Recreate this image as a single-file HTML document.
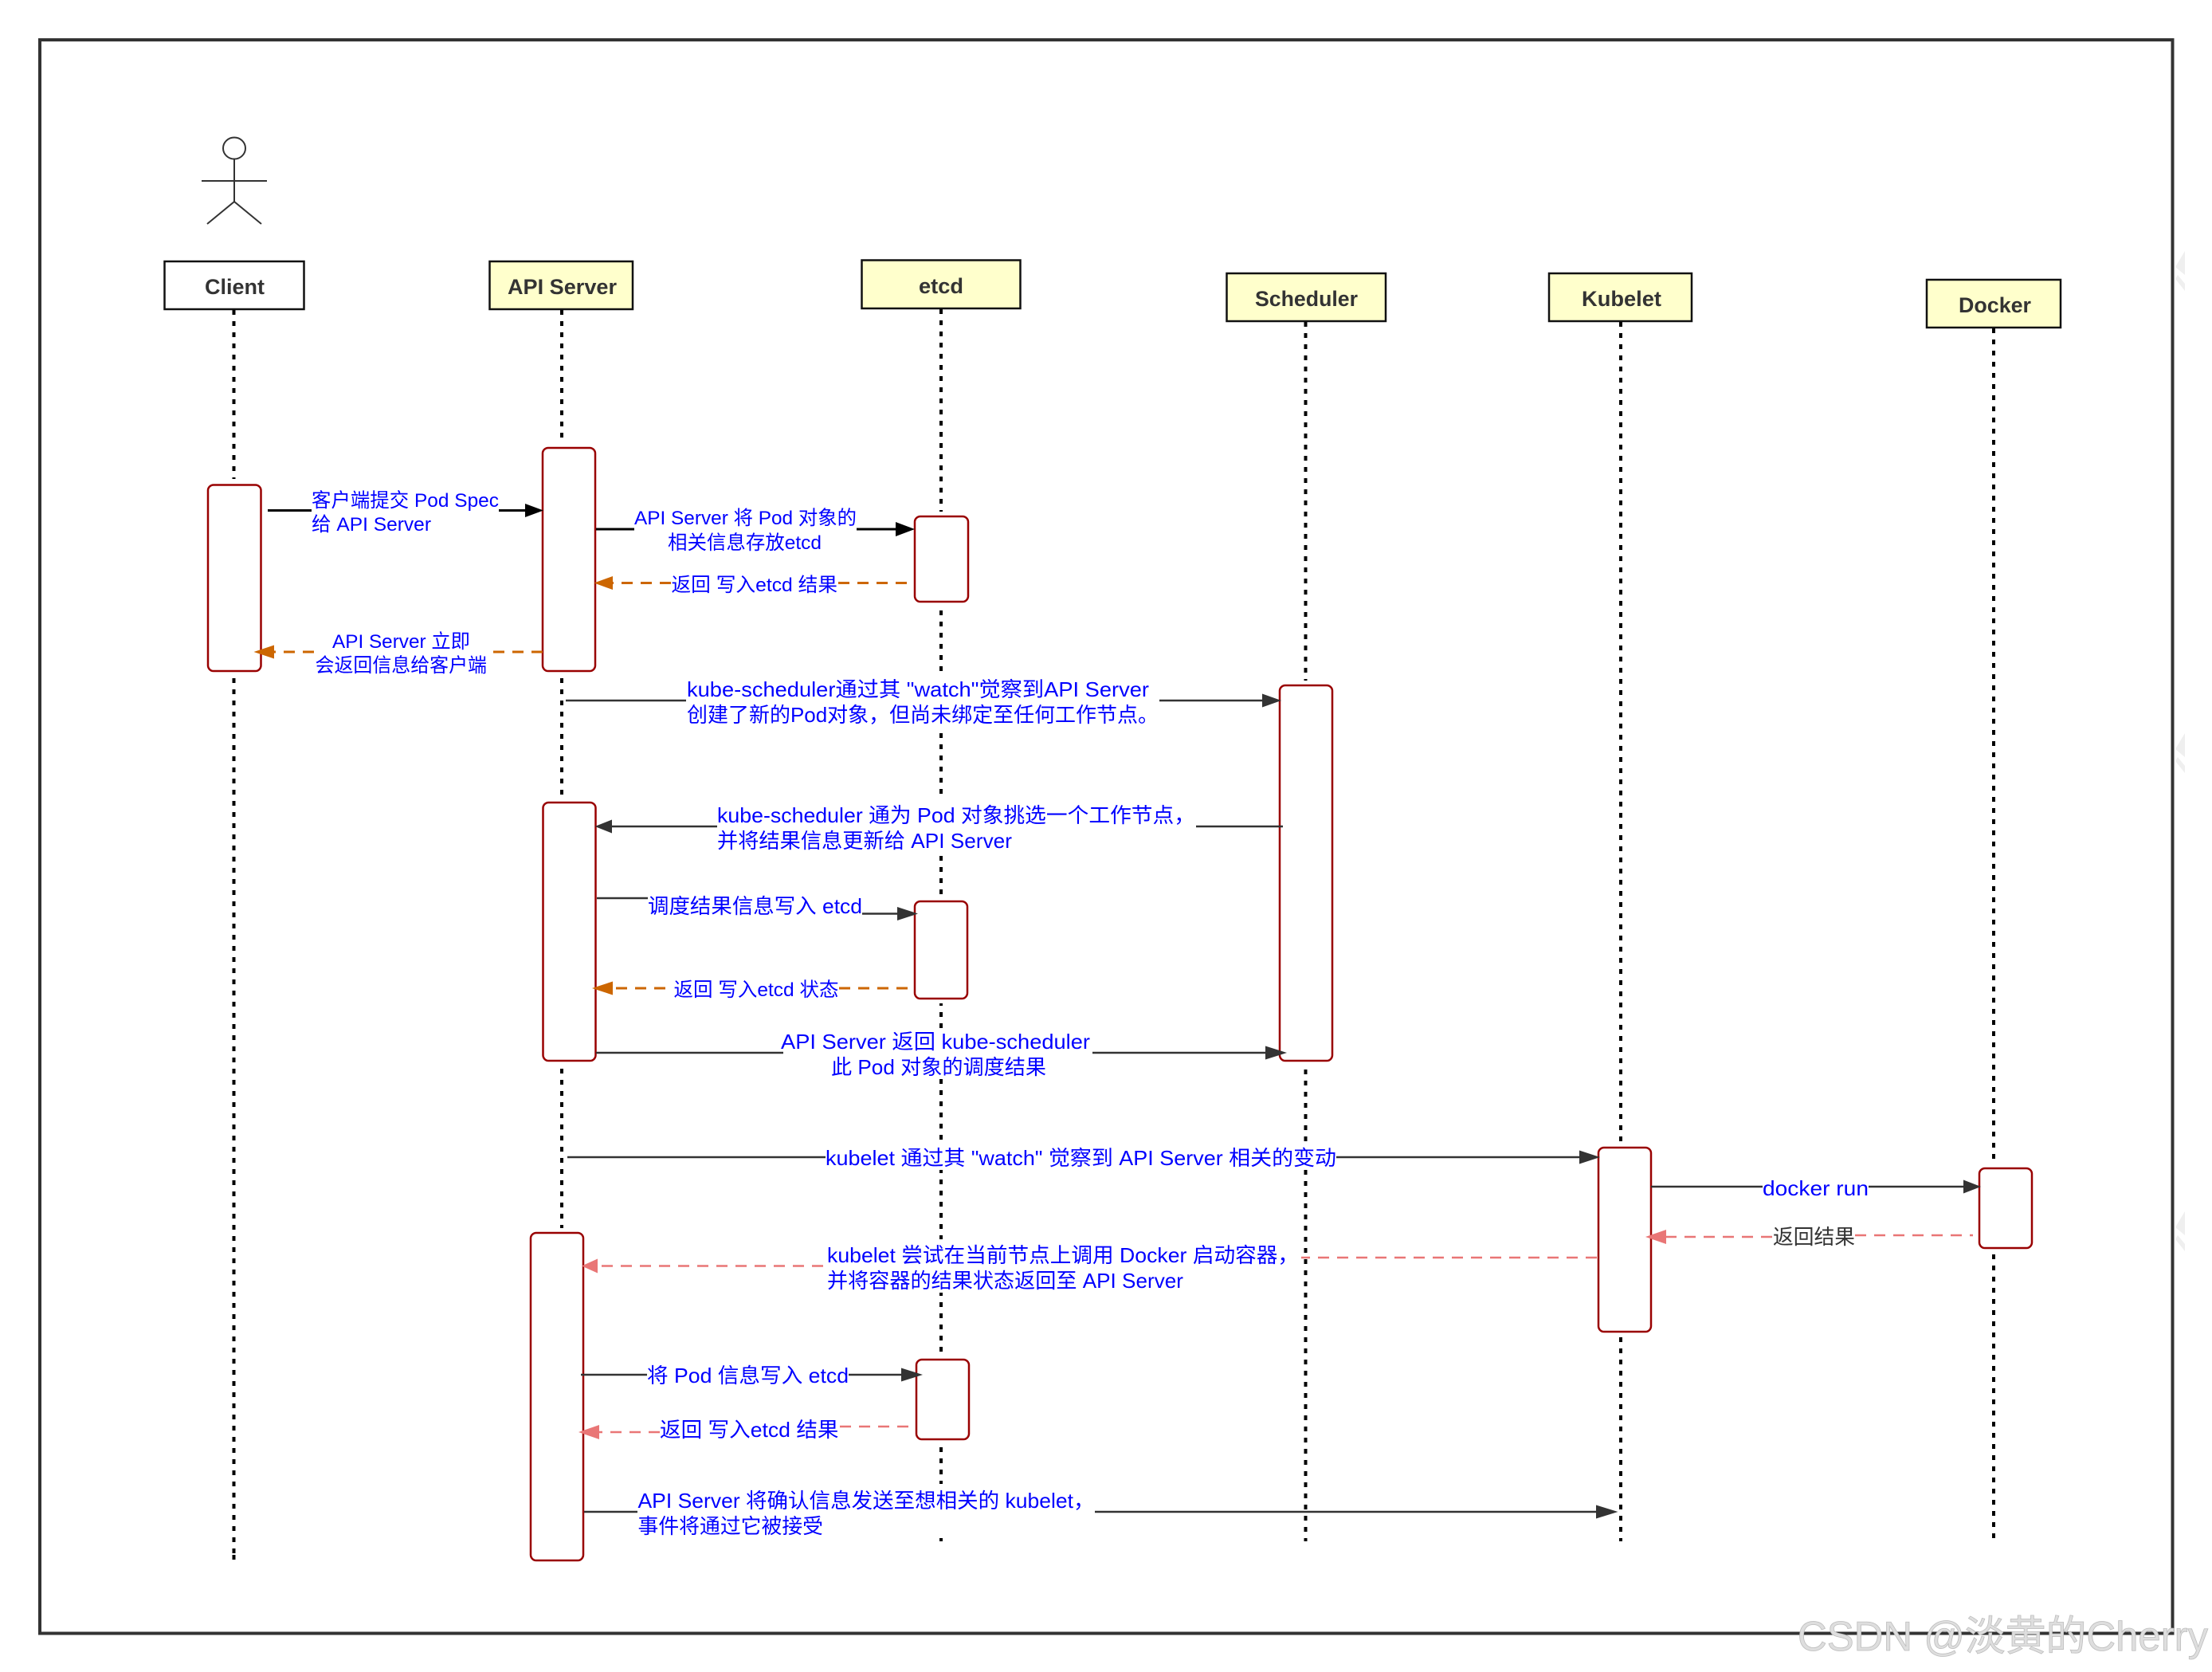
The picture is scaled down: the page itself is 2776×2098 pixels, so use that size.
<!DOCTYPE html>
<html><head><meta charset="utf-8"><style>
html,body{margin:0;padding:0;background:#fff}
svg{display:block}
text{font-family:"Liberation Sans","Noto Sans CJK SC",sans-serif;white-space:pre}
.s{font-size:24.5px;fill:#00f}
.b{font-size:26px;fill:#00f}
.t{font-size:27px;font-weight:bold;fill:#333;text-anchor:start}
.ll{stroke:#000;stroke-width:4;stroke-dasharray:6 8;fill:none}
.box{stroke:#111;stroke-width:2.5}
.act{fill:#fff;stroke:#990000;stroke-width:2.5}
.k{stroke:#000;stroke-width:3;fill:none}
.g{stroke:#333;stroke-width:2.5;fill:none}
.o{stroke:#CC6600;stroke-width:3;stroke-dasharray:14 10;fill:none}
.p{stroke:#E97676;stroke-width:2.5;stroke-dasharray:14 10;fill:none}
</style></head><body>
<svg xmlns="http://www.w3.org/2000/svg" width="2776" height="2098" viewBox="0 0 2776 2098">
<rect width="2776" height="2098" fill="#fff"/>
<rect x="50" y="50" width="2676.5" height="1999.5" fill="none" stroke="#333" stroke-width="4"/>

<!-- faint edge marks -->
<g fill="#efefef">
<polygon points="2742,315 2730,335 2742,345"/><polygon points="2730,350 2742,365 2742,356 2733,345"/>
<polygon points="2742,920 2730,940 2742,950"/><polygon points="2730,955 2742,970 2742,961 2733,950"/>
<polygon points="2742,1520 2730,1540 2742,1550"/><polygon points="2730,1555 2742,1570 2742,1561 2733,1550"/>
</g>

<!-- actor -->
<g fill="none" stroke="#333" stroke-width="2">
<ellipse cx="294" cy="186" rx="14" ry="13.5"/>
<path d="M294 200V253M253 227H335M294 253L260 281M294 253L328 281"/>
</g>

<!-- lifelines -->
<path class="ll" d="M293.5 389V1950"/>
<path class="ll" d="M293.5 1951V1957"/>
<path class="ll" d="M705 389V1541"/>
<path class="ll" d="M1181 388V1934"/>
<path class="ll" d="M1638.5 404V1934"/>
<path class="ll" d="M2034 404V1934"/>
<path class="ll" d="M2502 412V1930"/>

<!-- label backgrounds hiding lifelines -->
<g fill="#fff">
<rect x="862" y="842" width="582" height="76"/>
<rect x="900" y="1004" width="586" height="70"/>
<rect x="980" y="1290" width="390" height="64"/>
<rect x="1036" y="1436" width="642" height="32"/>
<rect x="1038" y="1555" width="578" height="67"/>
<rect x="800" y="1862" width="560" height="68"/>
</g>

<!-- white halos around activations -->
<g fill="#fff">
<rect x="255" y="601" width="78" height="249"/>
<rect x="675" y="556" width="78" height="294"/>
<rect x="1142" y="642" width="78" height="118"/>
<rect x="1600" y="854" width="78" height="484"/>
<rect x="675" y="1001" width="78" height="338"/>
<rect x="1142" y="1125" width="78" height="134"/>
<rect x="660" y="1541" width="78" height="420"/>
<rect x="1144" y="1700" width="78" height="114"/>
<rect x="2000" y="1434" width="78" height="243"/>
<rect x="2478" y="1460" width="78" height="112"/>
</g>

<!-- header boxes -->
<rect class="box" x="206.5" y="328" width="175" height="60" fill="#fff"/>
<rect class="box" x="614.5" y="328" width="179.5" height="60" fill="#FFFFCC"/>
<rect class="box" x="1081.5" y="326.5" width="199" height="60.5" fill="#FFFFCC"/>
<rect class="box" x="1539.5" y="343" width="199.5" height="60" fill="#FFFFCC"/>
<rect class="box" x="1944" y="343" width="179" height="60" fill="#FFFFCC"/>
<rect class="box" x="2418" y="351" width="168" height="60" fill="#FFFFCC"/>
<text class="t" x="257" y="369" textLength="75" lengthAdjust="spacingAndGlyphs">Client</text>
<text class="t" x="637" y="369" textLength="137" lengthAdjust="spacingAndGlyphs">API Server</text>
<text class="t" x="1153" y="368" textLength="56" lengthAdjust="spacingAndGlyphs">etcd</text>
<text class="t" x="1575" y="384" textLength="129" lengthAdjust="spacingAndGlyphs">Scheduler</text>
<text class="t" x="1985" y="384" textLength="100" lengthAdjust="spacingAndGlyphs">Kubelet</text>
<text class="t" x="2458" y="392" textLength="91" lengthAdjust="spacingAndGlyphs">Docker</text>

<!-- activations -->
<rect class="act" x="261" y="608.5" width="66.5" height="233.5" rx="7"/>
<rect class="act" x="681" y="562" width="66" height="280" rx="7"/>
<rect class="act" x="1148" y="648" width="67" height="107" rx="7"/>
<rect class="act" x="1606" y="860" width="66" height="471" rx="7"/>
<rect class="act" x="681.5" y="1007" width="66" height="324" rx="7"/>
<rect class="act" x="1148" y="1131" width="66" height="122" rx="7"/>
<rect class="act" x="666" y="1547" width="66" height="411" rx="7"/>
<rect class="act" x="1150" y="1706" width="66" height="100" rx="7"/>
<rect class="act" x="2006" y="1440" width="66" height="231" rx="7"/>
<rect class="act" x="2484" y="1466" width="66" height="100" rx="7"/>

<!-- 1 client to api -->
<path class="k" d="M336 640.5H391M626 640.5H660"/>
<polygon points="659,632 682,640.5 659,649" fill="#000"/>
<text class="s" x="391" y="636" textLength="235" lengthAdjust="spacingAndGlyphs">客户端提交 Pod Spec</text>
<text class="s" x="391" y="666" textLength="150" lengthAdjust="spacingAndGlyphs">给 API Server</text>

<!-- 2 api to etcd -->
<path class="k" d="M748 664H796M1075 664H1126"/>
<polygon points="1124,655 1148,664 1124,673" fill="#000"/>
<text class="s" x="796" y="658" textLength="279" lengthAdjust="spacingAndGlyphs">API Server 将 Pod 对象的</text>
<text class="s" x="838" y="689" textLength="193" lengthAdjust="spacingAndGlyphs">相关信息存放etcd</text>

<!-- 3 etcd return -->
<path class="o" d="M1052 731.5H1143M842 731.5H768"/>
<polygon points="769,723 745.5,731.5 769,740" fill="#CC6600"/>
<text class="s" x="842.5" y="742" textLength="208.5" lengthAdjust="spacingAndGlyphs">返回 写入etcd 结果</text>

<!-- 4 api return to client -->
<path class="o" d="M681 818H614M394 818H344"/>
<polygon points="344,809.5 318.5,818 344,826.5" fill="#CC6600"/>
<text class="s" x="417" y="813" textLength="173" lengthAdjust="spacingAndGlyphs">API Server 立即</text>
<text class="s" x="395.5" y="843" textLength="215.5" lengthAdjust="spacingAndGlyphs">会返回信息给客户端</text>

<!-- 5 -->
<path class="g" d="M710 879H861M1455 879H1586"/>
<polygon points="1584,870.5 1608,879 1584,887.5" fill="#333"/>
<text class="b" x="862" y="874" textLength="580" lengthAdjust="spacingAndGlyphs">kube-scheduler通过其 "watch"觉察到API Server</text>
<text class="b" x="862" y="906" textLength="592" lengthAdjust="spacingAndGlyphs">创建了新的Pod对象，但尚未绑定至任何工作节点。</text>

<!-- 6 -->
<path class="g" d="M1610 1037H1501M900 1037H766"/>
<polygon points="768,1028.5 746.5,1037 768,1045.5" fill="#333"/>
<text class="b" x="900" y="1032" textLength="600" lengthAdjust="spacingAndGlyphs">kube-scheduler 通为 Pod 对象挑选一个工作节点，</text>
<text class="b" x="900" y="1064" textLength="370" lengthAdjust="spacingAndGlyphs">并将结果信息更新给 API Server</text>

<!-- 7 -->
<path class="g" d="M749 1127H813M1082 1146.5H1128"/>
<polygon points="1126,1138 1152,1146.5 1126,1155" fill="#333"/>
<text class="b" x="813" y="1146" textLength="269" lengthAdjust="spacingAndGlyphs">调度结果信息写入 etcd</text>

<!-- 8 -->
<path class="o" d="M1053 1240H1148M835 1240H768"/>
<polygon points="769,1231.5 743,1240 769,1248.5" fill="#CC6600"/>
<text class="s" x="845.5" y="1250" textLength="207" lengthAdjust="spacingAndGlyphs">返回 写入etcd 状态</text>

<!-- 9 -->
<path class="g" d="M748 1321H983M1371 1321H1590"/>
<polygon points="1588,1312.5 1615,1321 1588,1329.5" fill="#333"/>
<text class="b" x="980" y="1316" textLength="388" lengthAdjust="spacingAndGlyphs">API Server 返回 kube-scheduler</text>
<text class="b" x="1043" y="1348" textLength="270" lengthAdjust="spacingAndGlyphs">此 Pod 对象的调度结果</text>

<!-- 10 -->
<path class="g" d="M712 1452H1036M1677 1452H1984"/>
<polygon points="1982,1443.5 2008,1452 1982,1460.5" fill="#333"/>
<text class="b" x="1036" y="1462" textLength="641" lengthAdjust="spacingAndGlyphs">kubelet 通过其 "watch" 觉察到 API Server 相关的变动</text>

<!-- 11 -->
<path class="p" d="M2004 1578H1633"/>
<path class="p" d="M1033 1588.5H750"/>
<polygon points="750,1579.5 730,1588.5 750,1597.5" fill="#E97676"/>
<text class="b" x="1038" y="1584" textLength="592" lengthAdjust="spacingAndGlyphs">kubelet 尝试在当前节点上调用 Docker 启动容器，</text>
<text class="b" x="1038" y="1616" textLength="447" lengthAdjust="spacingAndGlyphs">并将容器的结果状态返回至 API Server</text>

<!-- 12 -->
<path class="g" d="M2072 1489H2212M2345 1489H2466"/>
<polygon points="2464,1480.5 2486,1489 2464,1497.5" fill="#333"/>
<text class="b" x="2212" y="1500" textLength="133" lengthAdjust="spacingAndGlyphs">docker run</text>

<!-- 13 -->
<path class="p" d="M2328 1550H2476"/>
<path class="p" d="M2224 1552H2091"/>
<polygon points="2091,1543 2065,1552 2091,1561" fill="#E97676"/>
<text x="2225" y="1561" font-size="26" fill="#333" textLength="103" lengthAdjust="spacingAndGlyphs">返回结果</text>

<!-- 14 -->
<path class="g" d="M729 1725H812M1065 1725H1133"/>
<polygon points="1131,1716.5 1158,1725 1131,1733.5" fill="#333"/>
<text class="b" x="812" y="1735" textLength="253" lengthAdjust="spacingAndGlyphs">将 Pod 信息写入 etcd</text>

<!-- 15 -->
<path class="p" d="M1054 1790H1150"/>
<path class="p" d="M828 1797H752"/>
<polygon points="752,1788 726,1797 752,1806" fill="#E97676"/>
<text class="b" x="828" y="1803" textLength="224.5" lengthAdjust="spacingAndGlyphs">返回 写入etcd 结果</text>

<!-- 16 -->
<path class="g" d="M733 1897H800M1374 1897H2005"/>
<polygon points="2003,1888.5 2030.5,1897 2003,1905.5" fill="#333"/>
<text class="b" x="800.5" y="1892" textLength="573" lengthAdjust="spacingAndGlyphs">API Server 将确认信息发送至想相关的 kubelet，</text>
<text class="b" x="800.5" y="1924" textLength="232.5" lengthAdjust="spacingAndGlyphs">事件将通过它被接受</text>

<!-- watermark -->
<text x="2256" y="2071" font-size="52" fill="#dedede" stroke="#bdbdbd" stroke-width="0.8" textLength="515" lengthAdjust="spacingAndGlyphs">CSDN @淡黄的Cherry</text>
</svg>
</body></html>
